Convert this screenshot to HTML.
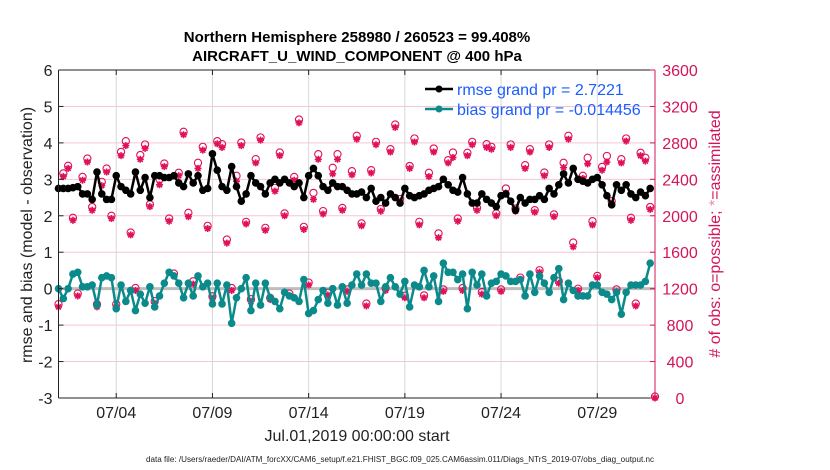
<!DOCTYPE html>
<html><head><meta charset="utf-8">
<style>
html,body{margin:0;padding:0;background:#fff;}
svg{display:block;font-family:"Liberation Sans",Arial,sans-serif;}
</style></head>
<body>
<svg id="chart" width="830" height="470" viewBox="0 0 830 470" xmlns="http://www.w3.org/2000/svg">
  <rect x="0" y="0" width="830" height="470" fill="#fff"/>
  <g id="grid"></g>
  <g id="obs"></g>
  <g id="series"></g>
  <g id="axes"></g>
  <text x="357" y="42" text-anchor="middle" font-size="15" font-weight="bold">Northern Hemisphere 258980 / 260523 = 99.408%</text>
  <text x="357" y="61" text-anchor="middle" font-size="15" font-weight="bold">AIRCRAFT_U_WIND_COMPONENT @ 400 hPa</text>
  <text x="357" y="441" text-anchor="middle" font-size="16" fill="#222">Jul.01,2019 00:00:00 start</text>
  <text x="146" y="462" text-anchor="start" textLength="508" lengthAdjust="spacingAndGlyphs" font-size="8" fill="#222">data file: /Users/raeder/DAI/ATM_forcXX/CAM6_setup/f.e21.FHIST_BGC.f09_025.CAM6assim.011/Diags_NTrS_2019-07/obs_diag_output.nc</text>
  <text transform="translate(32,235) rotate(-90)" text-anchor="middle" font-size="16" fill="#222">rmse and bias (model - observation)</text>
  <text transform="translate(720,234) rotate(-90)" text-anchor="middle" font-size="16" fill="#d4145a"># of obs: o=possible; <tspan fill="#f08aa8">*</tspan>=assimilated</text>
  <g id="legend">
    <g>
      <line x1="425" y1="89" x2="453" y2="89" stroke="#000" stroke-width="2.5"/>
      <circle cx="439" cy="89" r="3.5" fill="#000"/>
      <text x="457" y="95" font-size="16" fill="#1a5cff">rmse grand pr = 2.7221</text>
    </g>
    <g>
      <line x1="425" y1="109" x2="453" y2="109" stroke="#0a8a8a" stroke-width="2.5"/>
      <circle cx="439" cy="109" r="3.5" fill="#0a8a8a"/>
      <text x="457" y="115" font-size="16" fill="#1a5cff">bias grand pr = -0.014456</text>
    </g>
  </g>
</svg>
<script>
const rmse = [2.75,2.75,2.75,2.77,2.8,2.6,2.6,2.45,3.2,2.6,2.45,2.45,3.1,2.8,2.7,2.6,3.2,2.7,3.05,2.5,3.1,3.1,3.05,3.05,3.1,2.9,2.8,3.15,2.9,3.1,2.7,2.75,3.7,3.25,2.8,2.7,3.35,2.8,2.4,2.6,3.1,2.9,2.8,2.6,2.9,3.0,2.9,3.0,2.9,2.8,2.9,2.5,3.1,3.3,3.1,2.8,2.7,2.9,2.8,2.8,2.7,2.6,2.6,
2.65,2.5,2.75,2.4,2.5,2.35,2.6,2.5,2.35,2.75,2.55,2.5,2.55,2.6,2.7,2.75,2.8,3.0,2.85,2.7,2.65,3.05,2.6,2.35,2.35,2.6,2.45,2.35,2.25,2.55,2.6,2.4,2.15,2.5,2.35,2.45,2.45,2.55,2.45,2.75,2.6,2.85,3.15,2.9,3.3,3.0,2.95,2.9,3.0,3.05,2.85,2.55,2.3,2.85,2.7,2.85,2.6,2.5,2.65,2.55,2.75];
const bias = [0,-0.27,0,0.4,0.45,0.05,0.05,0.1,-0.45,0.3,0.35,0.3,-0.55,0.1,-0.35,-0.05,-0.6,-0.15,-0.4,0.05,-0.5,-0.2,0.15,0.45,0.35,0.15,-0.25,0.15,-0.2,0.35,0.05,0.15,-0.42,0.15,-0.42,0.1,-0.95,-0.25,0,0.3,-0.6,0.15,-0.45,0.15,-0.25,-0.35,-0.55,-0.1,-0.2,-0.25,-0.35,0.25,-0.68,-0.6,-0.3,-0.05,-0.4,0,-0.45,0.05,-0.4,0.1,0.4,
0.1,0.4,0.15,0.15,-0.35,0.05,0.3,0.05,-0.15,0.2,-0.5,0.1,0.05,0.5,0.05,0.35,-0.35,0.7,0.45,0.45,0.25,0.4,-0.55,0.45,0.1,0.4,-0.2,0.15,0.2,0.4,0.35,0.2,0.2,0.25,-0.2,0.4,-0.1,0.35,0.15,-0.1,0.3,0.55,-0.3,0.15,-0.05,-0.2,-0.2,-0.2,0.1,0.1,-0.1,-0.15,-0.3,-0.1,-0.7,-0.1,0.1,0.1,0.1,0.2,0.7];
const obsPossible = [1013,2448,2532,1961,1130,2410,2612,2080,1013,2356,2502,1983,1013,2685,2802,1800,1190,2650,2766,2110,1046,2385,2557,1953,1350,2455,2905,2016,1265,2565,2740,1873,1100,2802,2770,1723,1190,2422,2787,1917,1068,2605,2843,1851,1083,2290,2678,2009,1130,2410,3040,1862,1250,2235,2660,2035,1140,2510,2660,2070,1175,
2473,2861,1900,1020,2484,2795,2058,1190,2715,2985,2168,1105,2530,2832,1917,1110,2455,2722,1790,1175,2594,2678,1953,1190,2675,2795,2070,1146,2770,2740,2009,1175,2283,2766,2063,1305,2539,2715,2045,1386,2458,2766,1998,1265,2565,2861,1690,1183,2422,2620,1924,1324,2520,2640,2144,1175,2605,2832,1961,1020,2675,2620,2080,0];
const obsAssim = [1000,2430,2520,1950,1120,2390,2590,2060,1000,2330,2480,1970,1000,2660,2770,1790,1180,2620,2740,2100,1040,2340,2540,1940,1340,2440,2890,1990,1250,2520,2720,1860,1090,2790,2750,1700,1180,2380,2770,1910,1060,2580,2830,1840,1080,2270,2660,2000,1120,2390,3020,1850,1240,2180,2620,2020,1130,2460,2620,2060,1170,
2450,2840,1890,1010,2470,2780,2050,1180,2700,2970,2160,1100,2520,2810,1900,1100,2430,2700,1760,1170,2580,2640,1940,1180,2660,2780,2060,1140,2750,2730,2000,1170,2250,2750,2050,1300,2520,2700,2040,1380,2440,2750,1990,1260,2530,2840,1660,1180,2410,2570,1900,1320,2500,2590,2130,1170,2580,2820,1950,1010,2660,2600,2070,0];
const xTickLabels = ["07/04","07/09","07/14","07/19","07/24","07/29"];
const xTickDays = [3,8,13,18,23,28];
const yLeftTicks = [-3,-2,-1,0,1,2,3,4,5,6];
const yRightTicks = [0,400,800,1200,1600,2000,2400,2800,3200,3600];

const PL=58.5, PR=655, PT=70, PB=398;
const xScale = d => PL + (d/31)*(PR-PL);
const yL = v => PB - (v+3)/9*(PB-PT);
const yR = v => PB - v/3600*(PB-PT);
const NS="http://www.w3.org/2000/svg";
function mk(tag, attrs, parent){const e=document.createElementNS(NS,tag);for(const k in attrs)e.setAttribute(k,attrs[k]);parent.appendChild(e);return e;}
const grid=document.getElementById('grid'), axes=document.getElementById('axes'), series=document.getElementById('series'), obsG=document.getElementById('obs');

yRightTicks.forEach(v=>{
  const l=mk('line',{x1:PL,x2:PR,y1:yR(v),y2:yR(v),stroke:'#f5c6d6','stroke-width':1},grid);
  
  
});
xTickDays.forEach((d,i)=>{
  const l=mk('line',{x1:xScale(d),x2:xScale(d),y1:PT,y2:PB,stroke:'#d8d8d8','stroke-width':1},grid);
  
  
  const t=mk('text',{x:xScale(d),y:PB+20,'text-anchor':'middle','font-size':16,fill:'#222'},axes);
  t.textContent=xTickLabels[i];
  
  
  mk('line',{x1:xScale(d),x2:xScale(d),y1:PB,y2:PB-5,stroke:'#222'},axes);
  mk('line',{x1:xScale(d),x2:xScale(d),y1:PT,y2:PT+5,stroke:'#222'},axes);
});
const zl=mk('line',{x1:PL,x2:PR,y1:yL(0),y2:yL(0),stroke:'#bdbdbd','stroke-width':3},grid);



obsPossible.forEach((v,i)=>{
  const cx=xScale(i*0.25), cy=yR(v);
  const c=mk('circle',{cx:cx,cy:cy-1.5,r:3.6,fill:'none',stroke:'#e0105a','stroke-width':1.1},obsG);
  
  
});
obsAssim.forEach((v,i)=>{
  const cx=xScale(i*0.25), cy=yR(v);
  const s=mk('path',{d:`M${cx-3.5},${cy}h7M${cx},${cy-3.5}v7M${cx-2.5},${cy-2.5}l5,5M${cx-2.5},${cy+2.5}l5,-5`,stroke:'#e0105a','stroke-width':1.6},obsG);
  
  
});

function drawLine(vals,color,name){
  const pts=vals.map((v,i)=>xScale(i*0.25).toFixed(1)+','+yL(v).toFixed(1)).join(' ');
  const pl=mk('polyline',{points:pts,fill:'none',stroke:color,'stroke-width':2.5,'stroke-linejoin':'round'},series);
  
  
  vals.forEach((v,i)=>{
    const c=mk('circle',{cx:xScale(i*0.25),cy:yL(v),r:3.8,fill:color},series);
    
    
  });
}
drawLine(bias,'#0a8a8a','bias');
drawLine(rmse,'#000','rmse');

mk('line',{x1:PL,x2:PR,y1:PT,y2:PT,stroke:'#222'},axes);
mk('line',{x1:PL,x2:PR,y1:PB,y2:PB,stroke:'#222'},axes);
mk('line',{x1:PL,x2:PL,y1:PT,y2:PB,stroke:'#222'},axes);
mk('line',{x1:PR,x2:PR,y1:PT,y2:PB,stroke:'#d4145a'},axes);
yLeftTicks.forEach(v=>{
  mk('line',{x1:PL,x2:PL+5,y1:yL(v),y2:yL(v),stroke:'#222'},axes);
  const t=mk('text',{x:PL-6,y:yL(v)+6,'text-anchor':'end','font-size':16,fill:'#222'},axes);
  t.textContent=v;
  
  
});
yRightTicks.forEach(v=>{
  mk('line',{x1:PR,x2:PR-5,y1:yR(v),y2:yR(v),stroke:'#d4145a'},axes);
  const t=mk('text',{x:PR+25,y:yR(v)+6,'text-anchor':'middle','font-size':16,fill:'#d4145a'},axes);
  t.textContent=v;
  
  
});
</script>
</body></html>
